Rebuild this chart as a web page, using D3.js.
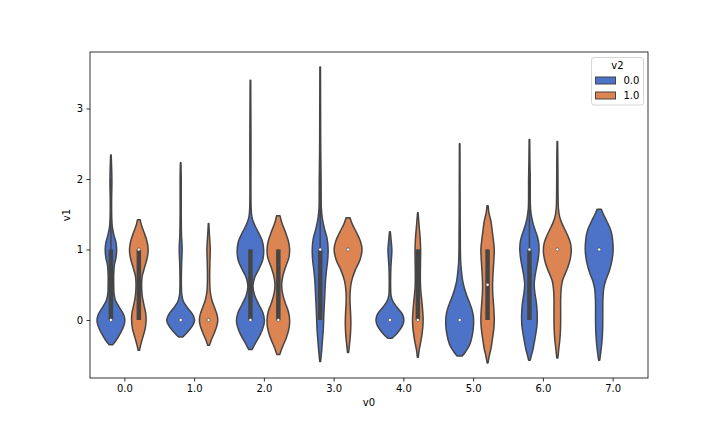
<!DOCTYPE html>
<html>
<head>
<meta charset="utf-8">
<script src="https://cdn.jsdelivr.net/npm/d3@7"></script>
<style>
  body { margin: 0; background: #fff; }
  text { font-family: "DejaVu Sans", sans-serif; font-size: 10px; fill: #000; }
</style>
</head>
<body>
<svg id="chart" width="720" height="432"></svg>
<script>
const categories = ["0.0", "1.0", "2.0", "3.0", "4.0", "5.0", "6.0", "7.0"];
const hues = ["0.0", "1.0"];
const yTicks = [0, 1, 2, 3];

// one entry per violin (v0 category, v2 hue)
const groupCat = ["0.0", "0.0", "1.0", "1.0", "2.0", "2.0", "3.0", "3.0", "4.0", "4.0", "5.0", "5.0", "6.0", "6.0", "7.0"];
const groupHue = ["0.0", "1.0", "0.0", "1.0", "0.0", "1.0", "0.0", "1.0", "0.0", "1.0", "0.0", "1.0", "0.0", "1.0", "0.0"];
const medians  = [0, 1, 0, 0, 0, 0, 1, 1, 0, 0, 0, 0.5, 1, 1, 1];
const q1s      = [0, 0, 0, 0, 0, 0, 0, 1, 0, 0, 0, 0, 0, 1, 1];
const q3s      = [1, 1, 0, 0, 1, 1, 1, 1, 0, 1, 0, 1, 1, 1, 1];
const whiskLo  = [0, 0, 0, 0, 0, 0, 0, 1, 0, 0, 0, 0, 0, 1, 1];
const whiskHi  = [2.0, 1, 0, 0, 1, 1, 2.1, 1, 0, 1, 0, 1, 2.0, 1, 1];

// density profiles [v1, relative density]
const densities = [
  [[-0.35,0.14],[-0.28,0.4],[-0.18,0.7],[-0.08,0.93],[0,1.0],[0.08,0.9],[0.18,0.6],[0.28,0.32],[0.38,0.22],[0.5,0.2],[0.65,0.2],[0.78,0.25],[0.88,0.36],[1.0,0.41],[1.1,0.36],[1.2,0.22],[1.32,0.1],[1.45,0.06],[1.7,0.05],[1.95,0.07],[2.1,0.06],[2.34,0.02]],
  [[-0.43,0.05],[-0.35,0.14],[-0.25,0.28],[-0.12,0.46],[0,0.52],[0.1,0.49],[0.22,0.36],[0.35,0.24],[0.5,0.2],[0.62,0.24],[0.75,0.42],[0.88,0.6],[1.0,0.67],[1.12,0.58],[1.25,0.36],[1.35,0.18],[1.42,0.1]],
  [[-0.24,0.15],[-0.17,0.5],[-0.08,0.85],[0,1.0],[0.08,0.85],[0.17,0.5],[0.26,0.2],[0.36,0.08],[0.5,0.05],[0.8,0.07],[0.95,0.1],[1.05,0.1],[1.2,0.06],[1.5,0.04],[2.0,0.04],[2.23,0.02]],
  [[-0.36,0.06],[-0.28,0.2],[-0.18,0.42],[-0.08,0.6],[0,0.66],[0.08,0.6],[0.18,0.42],[0.28,0.24],[0.4,0.12],[0.6,0.08],[0.85,0.1],[1.0,0.12],[1.12,0.09],[1.25,0.05],[1.37,0.02]],
  [[-0.42,0.12],[-0.32,0.38],[-0.2,0.72],[-0.08,0.95],[0,1.0],[0.1,0.9],[0.22,0.6],[0.35,0.3],[0.48,0.18],[0.6,0.3],[0.72,0.6],[0.85,0.88],[1.0,0.95],[1.12,0.85],[1.25,0.55],[1.37,0.25],[1.47,0.1],[1.6,0.05],[2.5,0.04],[3.4,0.02]],
  [[-0.49,0.1],[-0.38,0.3],[-0.25,0.58],[-0.1,0.78],[0,0.81],[0.12,0.72],[0.25,0.48],[0.38,0.3],[0.5,0.24],[0.62,0.32],[0.75,0.52],[0.88,0.75],[1.0,0.81],[1.12,0.72],[1.25,0.5],[1.38,0.25],[1.48,0.12]],
  [[-0.59,0.03],[-0.45,0.1],[-0.3,0.16],[-0.15,0.22],[0,0.25],[0.15,0.28],[0.35,0.33],[0.55,0.38],[0.7,0.45],[0.85,0.54],[1.0,0.57],[1.15,0.5],[1.3,0.3],[1.45,0.15],[1.6,0.08],[1.8,0.07],[2.1,0.06],[2.4,0.04],[3.0,0.03],[3.59,0.02]],
  [[-0.46,0.04],[-0.35,0.1],[-0.2,0.17],[-0.05,0.2],[0.1,0.18],[0.25,0.14],[0.4,0.15],[0.55,0.25],[0.7,0.5],[0.85,0.85],[1.0,1.0],[1.12,0.88],[1.25,0.58],[1.37,0.28],[1.45,0.14]],
  [[-0.26,0.15],[-0.18,0.55],[-0.08,0.9],[0,1.0],[0.08,0.9],[0.17,0.55],[0.26,0.22],[0.35,0.08],[0.5,0.05],[0.75,0.07],[0.9,0.12],[1.0,0.14],[1.1,0.1],[1.25,0.03]],
  [[-0.53,0.03],[-0.42,0.1],[-0.28,0.24],[-0.12,0.35],[0,0.38],[0.15,0.34],[0.3,0.27],[0.45,0.2],[0.6,0.18],[0.8,0.19],[1.0,0.2],[1.15,0.17],[1.3,0.11],[1.42,0.06],[1.52,0.02]],
  [[-0.51,0.18],[-0.45,0.42],[-0.35,0.72],[-0.2,0.92],[-0.05,1.0],[0.05,0.98],[0.15,0.88],[0.25,0.7],[0.35,0.5],[0.45,0.34],[0.55,0.22],[0.65,0.15],[0.8,0.08],[1.0,0.05],[1.8,0.03],[2.5,0.02]],
  [[-0.61,0.03],[-0.5,0.13],[-0.4,0.25],[-0.28,0.34],[-0.12,0.45],[0,0.48],[0.12,0.46],[0.24,0.42],[0.38,0.37],[0.5,0.36],[0.62,0.38],[0.75,0.42],[0.88,0.46],[1.0,0.48],[1.13,0.42],[1.25,0.34],[1.39,0.25],[1.52,0.1],[1.62,0.04]],
  [[-0.57,0.06],[-0.5,0.14],[-0.43,0.24],[-0.24,0.42],[-0.1,0.53],[0,0.56],[0.12,0.55],[0.24,0.5],[0.37,0.4],[0.5,0.34],[0.62,0.4],[0.73,0.5],[0.87,0.63],[1.0,0.69],[1.1,0.66],[1.18,0.57],[1.28,0.4],[1.37,0.26],[1.47,0.15],[1.58,0.08],[1.8,0.06],[2.0,0.06],[2.2,0.04],[2.56,0.02]],
  [[-0.54,0.04],[-0.42,0.1],[-0.28,0.18],[-0.12,0.23],[0,0.24],[0.15,0.24],[0.3,0.24],[0.45,0.28],[0.55,0.36],[0.65,0.55],[0.75,0.76],[0.87,0.93],[1.0,1.0],[1.1,0.93],[1.18,0.78],[1.28,0.55],[1.37,0.33],[1.47,0.16],[1.58,0.08],[1.8,0.05],[2.2,0.04],[2.53,0.02]],
  [[-0.57,0.04],[-0.45,0.12],[-0.28,0.21],[-0.12,0.25],[0,0.26],[0.15,0.26],[0.3,0.27],[0.45,0.33],[0.55,0.45],[0.68,0.7],[0.8,0.87],[0.9,0.96],[1.0,1.0],[1.1,0.98],[1.2,0.92],[1.3,0.78],[1.4,0.55],[1.5,0.3],[1.57,0.15]]
];

const hueColors = ["#4c73c7", "#dc8452"];
const gray = "#454545";

const svg = d3.select("#chart");
const plotLeft = 90, plotRight = 648, plotTop = 52, plotBottom = 378;

svg.append("rect").attr("width", 720).attr("height", 432).attr("fill", "#fff");

const xScale = d3.scaleBand().domain(categories).range([plotLeft, plotRight]);
const hueScale = d3.scaleBand().domain(hues)
    .range([xScale.bandwidth() * 0.1, xScale.bandwidth() * 0.9]);
const yScale = d3.scaleLinear().domain([-0.823, 3.801]).range([plotBottom, plotTop]);
const wScale = d3.scaleLinear().domain([0, 1]).range([0, hueScale.bandwidth() / 2]);
const colorScale = d3.scaleOrdinal().domain(hues).range(hueColors);

const plot = svg.append("g");

groupCat.forEach((cat, i) => {
    const cx = xScale(cat) + hueScale(groupHue[i]) + hueScale.bandwidth() / 2;

    const area = d3.area()
        .curve(d3.curveCatmullRom)
        .y(d => yScale(d[0]))
        .x0(d => cx - wScale(d[1]))
        .x1(d => cx + wScale(d[1]));

    plot.append("path")
        .datum(densities[i])
        .attr("d", area)
        .attr("fill", colorScale(groupHue[i]))
        .attr("stroke", gray)
        .attr("stroke-width", 1.5)
        .attr("stroke-linejoin", "round");

    // inner box
    plot.append("line")
        .attr("x1", cx).attr("x2", cx)
        .attr("y1", yScale(whiskLo[i])).attr("y2", yScale(whiskHi[i]))
        .attr("stroke", gray).attr("stroke-width", 1.5);

    if (q3s[i] > q1s[i]) {
        plot.append("line")
            .attr("x1", cx).attr("x2", cx)
            .attr("y1", yScale(q1s[i])).attr("y2", yScale(q3s[i]))
            .attr("stroke", gray).attr("stroke-width", 4.5);
    }

    plot.append("circle")
        .attr("cx", cx).attr("cy", yScale(medians[i]))
        .attr("r", 1.6)
        .attr("fill", "#fff")
        .attr("stroke", gray)
        .attr("stroke-width", 0.6);
});

// axes
const xAxis = svg.append("g")
    .attr("transform", `translate(0, ${plotBottom})`)
    .call(d3.axisBottom(xScale).tickSizeOuter(0).tickSize(3.5).tickPadding(3.5));
const yAxis = svg.append("g")
    .attr("transform", `translate(${plotLeft}, 0)`)
    .call(d3.axisLeft(yScale).tickValues(yTicks).tickFormat(d3.format("d")).tickSizeOuter(0).tickSize(3.5).tickPadding(3.5));

[xAxis, yAxis].forEach(g => {
    g.select(".domain").remove();
    g.selectAll("line").attr("stroke", "#000").attr("stroke-width", 0.8);
    g.selectAll("text").attr("font-family", "DejaVu Sans").attr("font-size", 10).attr("fill", "#000");
});

svg.append("rect")
    .attr("x", plotLeft).attr("y", plotTop)
    .attr("width", plotRight - plotLeft).attr("height", plotBottom - plotTop)
    .attr("fill", "none").attr("stroke", "#000").attr("stroke-width", 0.8);

svg.append("text")
    .attr("x", (plotLeft + plotRight) / 2).attr("y", 406)
    .attr("text-anchor", "middle")
    .text("v0");

svg.append("text")
    .attr("transform", `translate(70, ${(plotTop + plotBottom) / 2}) rotate(-90)`)
    .attr("text-anchor", "middle")
    .text("v1");

// legend
const legend = svg.append("g").attr("transform", "translate(591.5, 57.5)");
legend.append("rect")
    .attr("width", 52).attr("height", 47.5)
    .attr("rx", 2.5)
    .attr("fill", "#fff").attr("fill-opacity", 0.8)
    .attr("stroke", "#cccccc").attr("stroke-width", 0.8);
legend.append("text")
    .attr("x", 26).attr("y", 11.5)
    .attr("text-anchor", "middle")
    .text("v2");

const item = legend.selectAll(".item")
    .data(hues)
    .enter().append("g")
        .attr("class", "item")
        .attr("transform", (d, i) => `translate(4, ${19.5 + i * 15})`);
item.append("rect")
    .attr("width", 20).attr("height", 7)
    .attr("fill", d => colorScale(d))
    .attr("stroke", gray).attr("stroke-width", 1);
item.append("text")
    .attr("x", 28).attr("y", 7)
    .text(d => d);
</script>
</body>
</html>
